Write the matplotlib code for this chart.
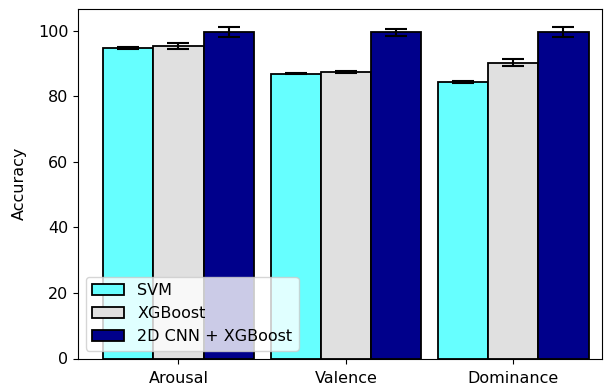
import numpy as np
import matplotlib
matplotlib.use("Agg")
import matplotlib.pyplot as plt

categories = ["Arousal", "Valence", "Dominance"]
models = ["SVM", "XGBoost", "2D CNN + XGBoost"]
svm_acc = [94.7, 87.0, 84.5]
svm_err = [0.3, 0.2, 0.3]
xgb_acc = [95.3, 87.5, 90.3]
xgb_err = [0.9, 0.4, 1.0]
cnn_acc = [99.6, 99.6, 99.6]
cnn_err = [1.5, 1.0, 1.5]
colors = ["#66ffff", "#e0e0e0", "#00008b"]

plt.rcParams["font.size"] = 11.5

fig = plt.figure(figsize=(6.06, 3.86), dpi=100)
ax = fig.add_axes([78/606, 1 - 358.5/386, (602-78)/606, (358.5-9)/386])

x = np.arange(len(categories))
w = 0.3
series = [(svm_acc, svm_err), (xgb_acc, xgb_err), (cnn_acc, cnn_err)]
for i, ((vals, errs), name, c) in enumerate(zip(series, models, colors)):
    ax.bar(x + (i - 1) * w, vals, w, yerr=errs, color=c, edgecolor="black",
           linewidth=1.3, label=name, capsize=8,
           error_kw=dict(ecolor="black", elinewidth=1.5, capthick=1.5))

ax.set_xticks(x)
ax.set_xticklabels(categories)
ax.tick_params(labelsize=11.5)
ax.tick_params(axis="x", pad=5.5)
ax.set_ylabel("Accuracy", fontsize=11.5, labelpad=8)
ax.set_xlim(-0.6, 2.53)
ax.set_ylim(0, 106.7)
ax.legend(loc="lower left", framealpha=0.8, fontsize=11.5)

fig.savefig("out.png", dpi=100)
